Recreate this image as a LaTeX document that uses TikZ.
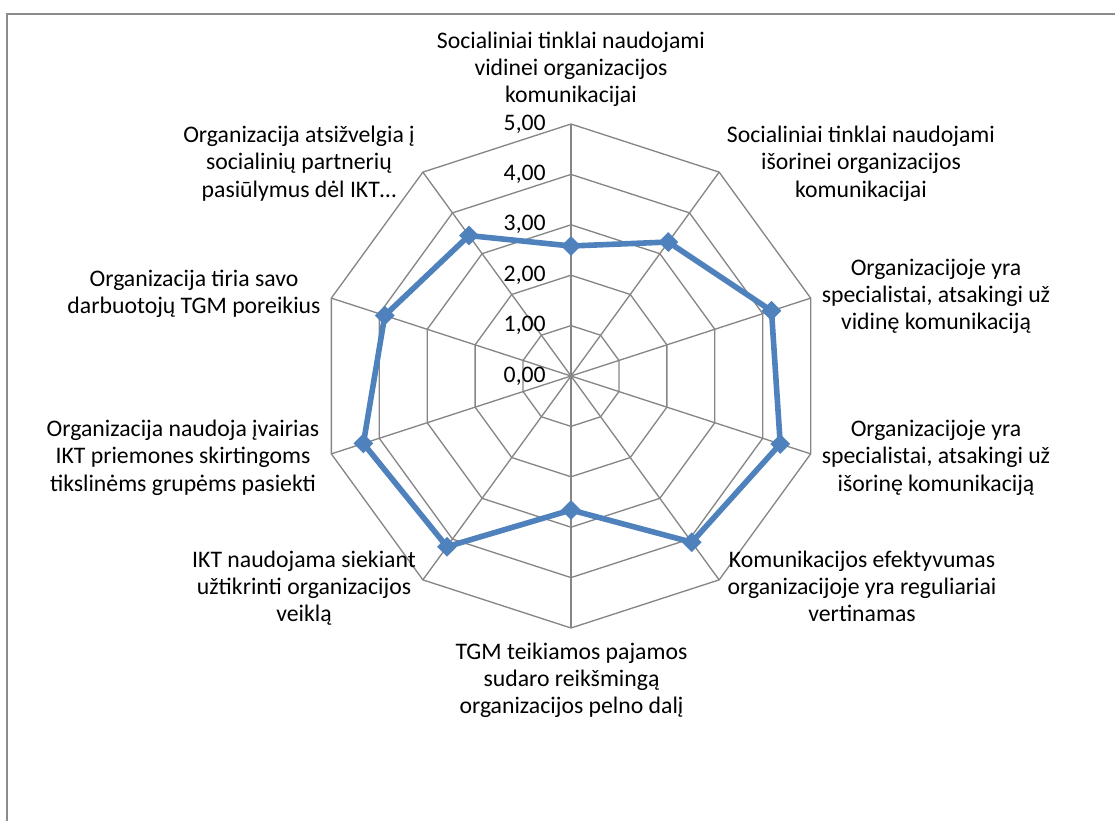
\documentclass[tikz,border=0pt]{standalone}
\usepackage{fontspec}
\setmainfont{Carlito}
\usetikzlibrary{shapes.geometric}
\definecolor{gridgray}{HTML}{868686}
\definecolor{serblue}{HTML}{4F81BD}
\definecolor{framegray}{HTML}{8C8C8C}
\begin{document}
\begin{tikzpicture}[x=0.75pt,y=-0.75pt,
  grid/.style={draw=gridgray,line width=1pt},
  axisline/.style={draw=gridgray,line width=1.4pt},
  series/.style={draw=serblue,line width=4.2pt,line join=round},
  marker/.style={shape=diamond,fill=serblue,draw=none,inner sep=0pt,minimum size=15pt},
  lbl/.style={align=center,font=\fontsize{17.8}{20.6}\selectfont,text=black,inner sep=0pt},
  tick/.style={anchor=east,font=\fontsize{17.8}{20.6}\selectfont,text=black,inner sep=0pt},
  frame/.style={draw=framegray,line width=1.6pt}]
\useasboundingbox (0,0) rectangle (1115,821);
% chart frame (only top and left edges visible)
\coordinate (fb) at (7,830);
\coordinate (ft) at (7,14);
\coordinate (fr) at (1125,14);
\draw[frame] (fb) -- (ft) -- (fr);
\begin{scope}[shift={(571,376)}]
  % grid rings
  \foreach \l in {1,...,5}
    \draw[grid] (-90:\l*50.4) -- (-54:\l*50.4) -- (-18:\l*50.4) -- (18:\l*50.4) -- (54:\l*50.4)
      -- (90:\l*50.4) -- (126:\l*50.4) -- (162:\l*50.4) -- (198:\l*50.4) -- (234:\l*50.4) -- cycle;
  % spokes
  \foreach \k in {1,...,9}
    \draw[grid] (0,0) -- (\k*36-90:252);
  \draw[axisline] (0,0) -- (-90:252);
  % tick labels
  \foreach \l/\t in {0/{0,00},1/{1,00},2/{2,00},3/{3,00},4/{4,00},5/{5,00}}
    \node[tick] (tick\l) at (-25,-\l*50.4) {\t};
  % data points
  \coordinate (d0) at (-90:130);
  \coordinate (d1) at (-54:165.6);
  \coordinate (d2) at (-18:210.8);
  \coordinate (d3) at (18:220);
  \coordinate (d4) at (54:205.5);
  \coordinate (d5) at (90:134);
  \coordinate (d6) at (126:211);
  \coordinate (d7) at (162:218.3);
  \coordinate (d8) at (198:195.8);
  \coordinate (d9) at (234:173.6);
  \draw[series] (d0) -- (d1) -- (d2) -- (d3) -- (d4) -- (d5) -- (d6) -- (d7) -- (d8) -- (d9) -- cycle;
  \foreach \i in {0,...,9}
    \node[marker] (m\i) at (d\i) {};
\end{scope}
% category labels
\node[lbl] (c1) at (571,70) {\strut Socialiniai tinklai naudojami\\vidinei organizacijos\\komunikacijai\strut};
\node[lbl] (c2) at (861,164.5) {\strut Socialiniai tinklai naudojami\\išorinei organizacijos\\komunikacijai\strut};
\node[lbl] (c3) at (936,297) {\strut Organizacijoje yra\\specialistai, atsakingi už\\vidinę komunikaciją\strut};
\node[lbl] (c4) at (936,458.5) {\strut Organizacijoje yra\\specialistai, atsakingi už\\išorinę komunikaciją\strut};
\node[lbl] (c5) at (862,589) {\strut Komunikacijos efektyvumas\\organizacijoje yra reguliariai\\vertinamas\strut};
\node[lbl] (c6) at (571.5,681) {\strut TGM teikiamos pajamos\\sudaro reikšmingą\\organizacijos pelno dalį\strut};
\node[lbl] (c7) at (304,589) {\strut IKT naudojama siekiant\\užtikrinti organizacijos\\veiklą\strut};
\node[lbl] (c8) at (183,458.5) {\strut Organizacija naudoja įvairias\\IKT priemones skirtingoms\\tikslinėms grupėms pasiekti\strut};
\node[lbl] (c9) at (194,294.5) {\strut Organizacija tiria savo\\darbuotojų TGM poreikius\strut};
\node[lbl] (c10) at (299,164.5) {\strut Organizacija atsižvelgia į\\socialinių partnerių\\pasiūlymus dėl IKT…\strut};
\end{tikzpicture}
\end{document}
